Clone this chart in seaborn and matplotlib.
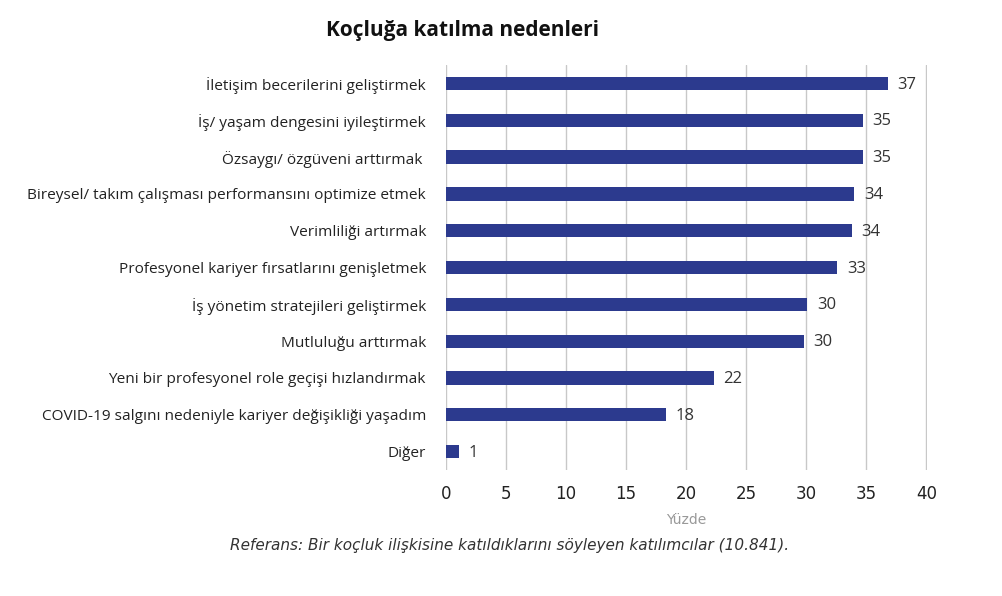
import pandas as pd
import matplotlib.pyplot as plt
import seaborn as sns

# --- data ---
nedenler = [
    "İletişim becerilerini geliştirmek",
    "İş/ yaşam dengesini iyileştirmek",
    "Özsaygı/ özgüveni arttırmak ",
    "Bireysel/ takım çalışması performansını optimize etmek",
    "Verimliliği artırmak",
    "Profesyonel kariyer fırsatlarını genişletmek",
    "İş yönetim stratejileri geliştirmek",
    "Mutluluğu arttırmak",
    "Yeni bir profesyonel role geçişi hızlandırmak",
    "COVID-19 salgını nedeniyle kariyer değişikliği yaşadım",
    "Diğer",
]
bar_uzunluk = [36.8, 34.7, 34.7, 34.0, 33.8, 32.6, 30.1, 29.8, 22.3, 18.3, 1.1]
etiketler = [37, 35, 35, 34, 34, 33, 30, 30, 22, 18, 1]
x_ticks = [0, 5, 10, 15, 20, 25, 30, 35, 40]

df = pd.DataFrame({"neden": nedenler, "yuzde": bar_uzunluk})

sns.set_style("white")
plt.rcParams["font.family"] = ["Open Sans", "DejaVu Sans"]

fig = plt.figure(figsize=(10.03, 5.96), dpi=100)
ax = fig.add_axes([0.4447, 0.2114, 0.4795, 0.6795])

sns.barplot(data=df, x="yuzde", y="neden", color="#2c3a8e", width=0.36,
            saturation=1, linewidth=0, ax=ax)

for i, (v, lab) in enumerate(zip(bar_uzunluk, etiketler)):
    ax.text(v + 0.8, i + 0.03, str(lab), va="center", ha="left", fontsize=12,
            color="#333333", fontweight="medium")

ax.set_xlim(0, 40.06)
ax.set_ylim(10.5, -0.5)
ax.set_xticks(x_ticks)
ax.set_xticklabels([str(t) for t in x_ticks], fontsize=12, color="#222222",
                   family=["DejaVu Sans"])
ax.tick_params(axis="x", length=0, pad=11)
ax.tick_params(axis="y", length=0, pad=14.5, labelsize=11.1, labelcolor="#222222")
ax.xaxis.grid(True, color="#c8c8c8", linewidth=1)
ax.set_axisbelow(True)
for s in ax.spines.values():
    s.set_visible(False)

ax.set_ylabel("")
ax.set_xlabel("Yüzde", fontsize=10, color="#999999", labelpad=7,
              family=["DejaVu Sans"])

fig.text(0.461, 0.948, "Koçluğa katılma nedenleri", ha="center", va="center",
         fontsize=15, fontweight="bold", color="#111111")
fig.text(0.229, 0.085,
         "Referans: Bir koçluk ilişkisine katıldıklarını söyleyen katılımcılar (10.841).",
         ha="left", va="center", fontsize=11, style="italic", color="#333333",
         family=["DejaVu Sans"])

fig.savefig("out.png", dpi=100)
plt.close(fig)
